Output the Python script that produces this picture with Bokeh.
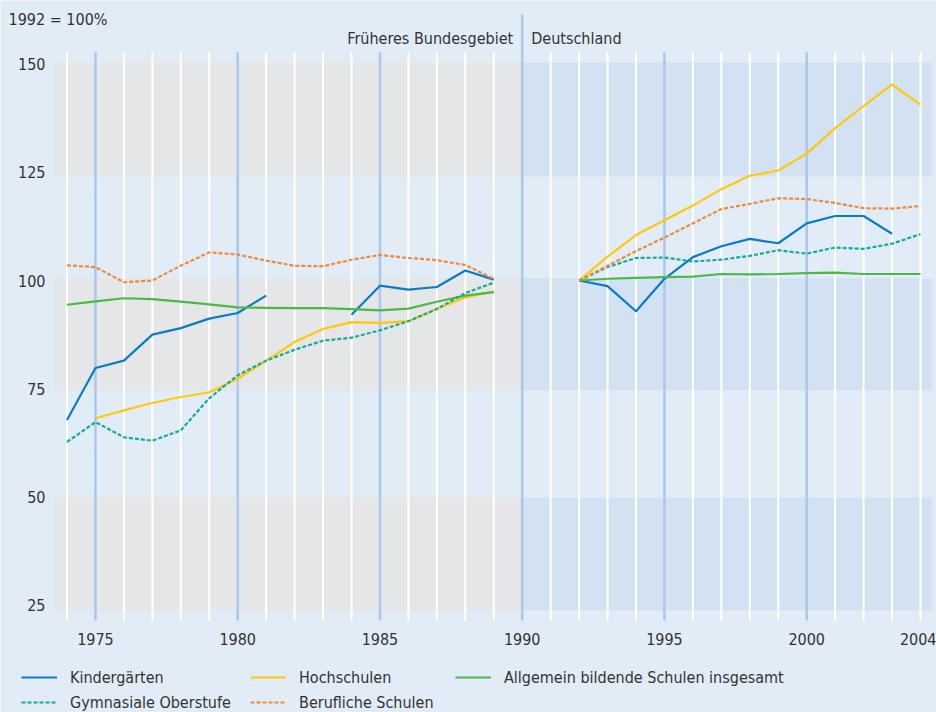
from bokeh.plotting import figure
from bokeh.models import Range1d, FixedTicker, Legend, LegendItem, ColumnDataSource, LinearAxis
from bokeh.embed import file_html
from bokeh.resources import INLINE
from bokeh.core.properties import value

nan = float("nan")

# ---------------- data ----------------
years = list(range(1974, 2005))
tick_years = [1975, 1980, 1985, 1990, 1995, 2000, 2004]
y_ticks = [25, 50, 75, 100, 125, 150]

# Früheres Bundesgebiet 1974-1989, then 1990/1991 gap, Deutschland 1992-2004
kiga_west = [67.8, 79.8, 81.5, 87.5, 89.0, 91.2, 92.5, 96.5, nan, nan, 92.1, 98.8, 97.9, 98.5, 102.3, 100.2]
kiga_east = [100, 98.7, 92.9, 100.4, 105.4, 107.9, 109.6, 108.6, 113.2, 114.9, 114.9, 110.8, nan]

hoch_west = [nan, 68.2, 70.0, 71.7, 73.1, 74.2, 77.3, 81.5, 85.8, 88.8, 90.4, 90.2, 90.6, 93.5, 96.1, 97.5]
hoch_east = [100, 105.5, 110.5, 113.9, 117.3, 121.1, 124.2, 125.4, 129.3, 135.2, 140.3, 145.3, 140.6]

allg_west = [94.4, 95.2, 95.9, 95.7, 95.1, 94.5, 93.8, 93.7, 93.6, 93.6, 93.4, 93.1, 93.5, 95.1, 96.5, 97.3]
allg_east = [100, 100.4, 100.6, 100.8, 100.9, 101.5, 101.4, 101.5, 101.7, 101.8, 101.5, 101.5, 101.5]

gymn_west = [62.7, 67.3, 63.8, 63.0, 65.4, 72.8, 78.1, 81.5, 84.0, 86.1, 86.8, 88.5, 90.6, 93.4, 97.1, 99.5]
gymn_east = [100, 103.1, 105.2, 105.3, 104.4, 104.8, 105.7, 107.0, 106.2, 107.6, 107.3, 108.5, 110.7]

beruf_west = [103.5, 103.1, 99.6, 100.0, 103.4, 106.5, 106.0, 104.6, 103.4, 103.3, 104.8, 105.9, 105.2, 104.7, 103.6, 100.4]
beruf_east = [100, 103.4, 106.8, 109.9, 113.2, 116.5, 117.7, 119.0, 118.8, 117.9, 116.7, 116.6, 117.2]

gap = [nan, nan]
series = [
    ("Kindergärten", kiga_west + gap + kiga_east, "#0a7cc4", "solid"),
    ("Hochschulen", hoch_west + gap + hoch_east, "#ffc90a", "solid"),
    ("Allgemein bildende Schulen insgesamt", allg_west + gap + allg_east, "#4db848", "solid"),
    ("Gymnasiale Oberstufe", gymn_west + gap + gymn_east, "#15aa9a", "4 2"),
    ("Berufliche Schulen", beruf_west + gap + beruf_east, "#f2883a", "4 2"),
]

split_year = 1990
band_ranges = [(23.8, 49.9), (74.6, 100.5), (124.0, 150.35)]

# ---------------- style / geometry ----------------
FONT = "'DejaVu Sans Condensed', 'Liberation Sans Narrow', sans-serif"
FS = "16px"
TXT = "#333333"
BG = "#e1ecf7"
BAND_W = "#e5e6e8"
BAND_E = "#d3e2f2"
VBLUE = "#a9c8ec"

W, H = 936, 712
PX_YEAR = 28.45          # pixels per year
PX_UNIT = 4.33           # pixels per percentage point
X0 = 1974 - 66.5 / PX_YEAR
X1 = X0 + W / PX_YEAR
Y1 = 100 + 280 / PX_UNIT
Y0 = Y1 - H / PX_UNIT

BAND_X0 = 1973.56
BAND_X1 = 2004.42
LINE_BOTTOM = 21.48
LINE_TOP = 152.66
SPLIT_TOP = 161.43

p = figure(width=W, height=H, x_range=Range1d(X0, X1), y_range=Range1d(Y0, Y1),
           output_backend="svg", toolbar_location=None,
           x_axis_location=None, y_axis_location=None, min_border=0,
           background_fill_color=BG, border_fill_color=BG, outline_line_color=None)
p.title.text = ""
p.grid.visible = False

# bands
for lo, hi in band_ranges:
    p.quad(left=[BAND_X0], right=[split_year], bottom=[lo], top=[hi], fill_color=BAND_W, line_color=None)
    p.quad(left=[split_year], right=[BAND_X1], bottom=[lo], top=[hi], fill_color=BAND_E, line_color=None)

# vertical year lines
white_years = [y for y in years if y % 5 != 0]
blue_years = [y for y in years if y % 5 == 0 and y != split_year]
p.segment(x0=white_years, x1=white_years, y0=[LINE_BOTTOM] * len(white_years),
          y1=[LINE_TOP] * len(white_years), line_color="white", line_width=2)
p.segment(x0=blue_years, x1=blue_years, y0=[LINE_BOTTOM] * len(blue_years),
          y1=[LINE_TOP] * len(blue_years), line_color=VBLUE, line_width=2.5)
p.segment(x0=[split_year], x1=[split_year], y0=[LINE_BOTTOM], y1=[SPLIT_TOP],
          line_color=VBLUE, line_width=2.5)

# texts above the plot area
p.text(x=[split_year], y=[156.0], text=["Früheres Bundesgebiet"], x_offset=-9,
       text_align="right", text_baseline="middle", text_font=value(FONT),
       text_font_size=FS, text_color=TXT)
p.text(x=[split_year], y=[156.0], text=["Deutschland"], x_offset=9,
       text_align="left", text_baseline="middle", text_font=value(FONT),
       text_font_size=FS, text_color=TXT)
p.text(x=[X0], y=[160.3], text=["1992 = 100%"], x_offset=8,
       text_align="left", text_baseline="middle", text_font=value(FONT),
       text_font_size=FS, text_color=TXT)

# data lines
renderers = {}
for name, vals, col, dash in series:
    src = ColumnDataSource(dict(x=years, y=vals))
    renderers[name] = p.line("x", "y", source=src, line_color=col, line_width=2.2, line_dash=dash)

# axes drawn at fixed positions (take no border space)
xax = LinearAxis(fixed_location=LINE_BOTTOM, ticker=FixedTicker(ticks=tick_years), major_label_standoff=7)
yax = LinearAxis(fixed_location=BAND_X0, ticker=FixedTicker(ticks=y_ticks), major_label_standoff=3)
for ax in (xax, yax):
    ax.axis_line_color = None
    ax.major_tick_line_color = None
    ax.minor_tick_line_color = None
    ax.major_label_text_font = FONT
    ax.major_label_text_font_size = FS
    ax.major_label_text_color = TXT
p.add_layout(xax, "below")
p.add_layout(yax, "left")

# legends (three columns)
def make_legend(names, loc):
    leg = Legend(items=[LegendItem(label=n, renderers=[renderers[n]]) for n in names],
                 location=loc, orientation="vertical", padding=0, margin=0, spacing=5,
                 glyph_width=36, glyph_height=20, label_height=20, label_standoff=13,
                 border_line_color=None, background_fill_alpha=0,
                 label_text_font=FONT, label_text_font_size=FS, label_text_color=TXT)
    p.add_layout(leg, "center")

make_legend(["Kindergärten", "Gymnasiale Oberstufe"], (21, 0))
make_legend(["Hochschulen", "Berufliche Schulen"], (250, 0))
make_legend(["Allgemein bildende Schulen insgesamt"], (455, 25))

open("out.html", "w").write(file_html(p, INLINE))
